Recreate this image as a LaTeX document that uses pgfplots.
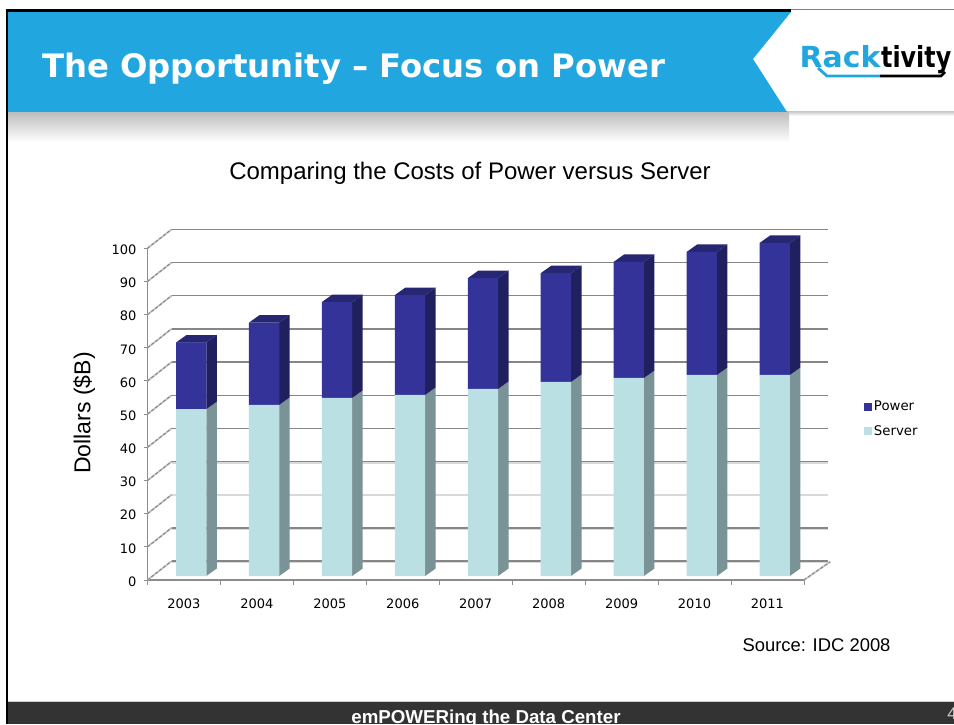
\documentclass[border=0pt]{standalone}
\usepackage{pgfplots}
\pgfplotsset{compat=1.18}
\usepackage{graphicx}
\usepackage{fontspec}
\setmainfont{Liberation Sans}
\newfontfamily\dejavu{DejaVu Sans}
\usetikzlibrary{shadings}
\definecolor{hblue}{HTML}{22A6E0}
\definecolor{pfront}{HTML}{333399}
\definecolor{pside}{HTML}{20205F}
\definecolor{ptop}{HTML}{262673}
\definecolor{sfront}{HTML}{BAE0E3}
\definecolor{sside}{HTML}{7A9396}
\definecolor{gridc}{HTML}{868686}
\newcommand\fs[1]{\fontsize{#1}{#1}\selectfont}
% year, server, total: side and top faces of a bar, in axis coordinates
\newcommand\barfaces[3]{%
  \pgfmathsetmacro\xl{#1-0.109}\pgfmathsetmacro\xm{#1+0.035}%
  \pgfmathsetmacro\xa{#1+0.306}\pgfmathsetmacro\xb{#1+0.45}%
  \pgfmathsetmacro\ba{1.2}\pgfmathsetmacro\bb{3.46}%
  \pgfmathsetmacro\sa{#2+1.2}\pgfmathsetmacro\sb{#2+3.46}%
  \pgfmathsetmacro\ta{#3+1.2}\pgfmathsetmacro\tb{#3+3.46}%
  \edef\tmp{\noexpand\addplot[fill=sside,draw=none,forget plot] coordinates {(\xa,\ba)(\xb,\bb)(\xb,\sb)(\xa,\sa)} --cycle;
  \noexpand\addplot[fill=pside,draw=none,forget plot] coordinates {(\xa,\sa)(\xb,\sb)(\xb,\tb)(\xa,\ta)} --cycle;
  \noexpand\addplot[fill=ptop,draw=none,forget plot] coordinates {(\xl,\ta)(\xa,\ta)(\xb,\tb)(\xm,\tb)} --cycle;}\tmp}
% slanted side-wall line from the front axis to the back wall
\newcommand\slant[1]{%
  \pgfmathsetmacro\yb{#1+5.7}%
  \edef\tmp{\noexpand\addplot[line width=1.8pt,white!78!black,forget plot] coordinates {(2002.5,#1)(2002.83,\yb)};
  \noexpand\addplot[line width=1pt,gridc,densely dashed,forget plot] coordinates {(2002.5,#1)(2002.83,\yb)};}\tmp}
% back-wall gridlines: plain, with light band under it, and light only
\newcommand\wallplain[1]{\slant{#1}%
  \pgfmathsetmacro\yb{#1+5.7}%
  \edef\tmp{\noexpand\addplot[line width=1.2pt,gridc,forget plot] coordinates {(2002.83,\yb)(2011.83,\yb)};}\tmp}
\newcommand\wall[1]{\slant{#1}%
  \pgfmathsetmacro\yb{#1+5.7}\pgfmathsetmacro\yc{#1+5.3}%
  \edef\tmp{\noexpand\addplot[line width=1.6pt,white!85!black,forget plot] coordinates {(2002.83,\yc)(2011.83,\yc)};
  \noexpand\addplot[line width=1.2pt,gridc,forget plot] coordinates {(2002.83,\yb)(2011.83,\yb)};}\tmp}
\newcommand\walllight[1]{\slant{#1}%
  \pgfmathsetmacro\yb{#1+5.7}%
  \edef\tmp{\noexpand\addplot[line width=1.6pt,white!85!black,forget plot] coordinates {(2002.83,\yb)(2011.83,\yb)};}\tmp}
\begin{document}
\begin{tikzpicture}[x=1pt,y=1pt]
\useasboundingbox (0,0) rectangle (954,724);
\clip (0,0) rectangle (954,724);
\fill[white] (0,0) rectangle (954,724);
% header
\shade[top color=white!74!black,bottom color=white] (7,612) rectangle (789,582);
\shade[top color=white!82!black,bottom color=white] (789,612) rectangle (954,608);
\fill[hblue] (7,712) -- (791,712) -- (753,665) -- (787,612) -- (7,612) -- cycle;
\fill[black] (7,712) rectangle (791,715);
\fill[white!50!black] (791,713.5) rectangle (954,714.5);
\fill[black] (5.5,0) rectangle (8,715);
\node[anchor=base west,text=white,inner sep=0] at (42,646) {\dejavu\bfseries\fs{32.3}The Opportunity – Focus on Power};
% logo
\node[anchor=base west,inner sep=0,text=hblue] at (799.5,656) {\dejavu\bfseries\fs{29}\scalebox{1.03}[1]{Rack}};
\node[anchor=base west,inner sep=0,text=black] at (881,656) {\dejavu\bfseries\fs{29}\scalebox{0.82}[1]{tivity}};
\draw[hblue,line width=2.8pt] (818,656) -- (827,648) -- (880,648);
\draw[black,line width=2.8pt] (880,648) -- (941,648) -- (945,652);
% footer
\fill[white!80!black] (8,22) rectangle (954,23);
\fill[white!20!black] (8,0) rectangle (954,22);
\node[anchor=base,text=white,inner sep=0] at (486,0.5) {\bfseries\fs{18.7}emPOWERing the Data Center};
\node[anchor=base east,text=white!80!black,inner sep=0] at (957,5) {\fs{17}4};
\node[anchor=base,inner sep=0] at (816.5,73) {\fs{18.4}Source: IDC 2008};
% walls, faces and axes
\begin{axis}[
  at={(147.5pt,144pt)},anchor=south west,scale only axis,
  width=656.5pt,height=331.7pt,clip=false,
  xmin=2002.5,xmax=2011.5,ymin=0,ymax=100,
  axis lines*=left,
  axis line style={draw=white!55!black,line width=1.6pt,-},
  xtick={2003,...,2011},
  xticklabels={2003,2004,2005,2006,2007,2008,2009,2010,2011},
  minor xtick={2002.5,2003.5,...,2011.5},
  major x tick style={draw=none},
  minor x tick style={draw=white!55!black,line width=0.8pt},
  minor tick length=5pt,
  ytick={0,10,...,100},
  y tick style={draw=white!55!black,line width=1pt},
  major tick length=4pt,
  tick align=outside,
  /pgf/number format/assume math mode=true,
  ticklabel style={font=\dejavu\fs{13}},
  xticklabel style={yshift=-11pt},
  yticklabel style={xshift=-3.5pt,yshift=-1.5pt},
  title={Comparing the Costs of Power versus Server},
  title style={at={(axis description cs:0.4913,1.209)},anchor=center,yshift=0pt,font=\fs{24}},
  ylabel={Dollars (\$B)},
  ylabel style={at={(axis description cs:-0.0963,0.5035)},anchor=center,font=\fs{23}},
]
\wall{0}\wall{10}\walllight{20}\wall{30}\wallplain{40}\wallplain{50}\wallplain{60}\wallplain{70}\wallplain{80}\wallplain{90}\wallplain{100}
\addplot[line width=1.8pt,white!78!black,forget plot] coordinates {(2011.5,0)(2011.86,5.5)};
\addplot[line width=1pt,gridc,densely dashed,forget plot] coordinates {(2011.5,0)(2011.86,5.5)};
\barfaces{2003}{50.3}{70.4}
\barfaces{2004}{51.6}{76.4}
\barfaces{2005}{53.7}{82.6}
\barfaces{2006}{54.6}{84.7}
\barfaces{2007}{56.4}{89.8}
\barfaces{2008}{58.5}{91.3}
\barfaces{2009}{59.7}{94.7}
\barfaces{2010}{60.6}{97.7}
\barfaces{2011}{60.6}{100.4}
\end{axis}
% front faces: same scale, bars' floor 4 px above the axis line and 7 px to the right
\begin{axis}[
  at={(154.7pt,148pt)},anchor=south west,scale only axis,
  width=656.5pt,height=331.7pt,clip=false,
  xmin=2002.5,xmax=2011.5,ymin=0,ymax=100,
  axis lines=none,
  ybar stacked,bar width=30.3pt,
  reverse legend,
  legend style={at={(axis description cs:1.0804,0.473)},anchor=west,draw=none,fill=none,
    font=\dejavu\fs{13.3},inner sep=0pt,outer sep=0pt,row sep=9.5pt,
    /tikz/every even column/.append style={column sep=0pt}},
  legend cell align=left,
  legend image code/.code={\path[#1,draw=none] (0pt,-4pt) rectangle (8pt,4pt);},
]
\addplot[fill=sfront,draw=none] coordinates {(2003,50.3)(2004,51.6)(2005,53.7)(2006,54.6)(2007,56.4)(2008,58.5)(2009,59.7)(2010,60.6)(2011,60.6)};
\addlegendentry{Server}
\addplot[fill=pfront,draw=none] coordinates {(2003,20.1)(2004,24.8)(2005,28.9)(2006,30.1)(2007,33.4)(2008,32.8)(2009,35.0)(2010,37.1)(2011,39.8)};
\addlegendentry{Power}
\end{axis}
\end{tikzpicture}
\end{document}
